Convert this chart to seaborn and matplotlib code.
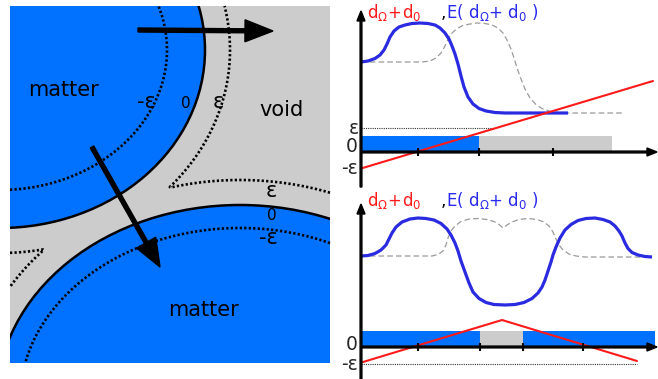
import numpy as np
import pandas as pd
import matplotlib
matplotlib.use("Agg")
import matplotlib.pyplot as plt
import seaborn as sns
from matplotlib.patches import Ellipse, Rectangle, FancyArrow

sns.set_style("white")
plt.rcParams['font.family'] = ['DejaVu Sans']
plt.rcParams['mathtext.fontset'] = 'dejavusans'
plt.rcParams['lines.dotted_pattern'] = [0.85, 0.85]

BLUE = "#0072ff"
GRAY = "#cccccc"
CURVE = "#2a2ae0"
RED = "#ff1a1a"

# ---------------- left panel (schematic, pixel units) ----------------
panel_box = (10, 6, 330, 363)              # x0, y0, x1, y1
upper_blob = (0, 50, 205, 178)            # centre x, centre y, semi-axis a, b
lower_blob = (240, 400, 243, 195)
eps_out = 25
eps_in = {"upper": 38, "lower": 23}
left_labels = [("matter", 64, 90, 15), ("void", 281, 110, 15),
               ("-ε", 146, 102, 15), ("0", 186, 103, 11), ("ε", 218, 102, 15),
               ("ε", 271, 191, 15), ("0", 272, 215, 11), ("-ε", 268, 238, 15),
               ("matter", 204, 310, 15)]
arrows = [(138, 30, 273, 31), (92, 147, 160, 267)]

# ---------------- right panels ----------------
top_blue_x = [361, 368, 375, 380, 384, 387, 390, 394, 399, 405, 412, 420, 428, 435, 440, 445, 449, 452,
              455, 458, 461, 464, 468, 473, 479, 486, 495, 505, 568]
top_blue_y = [62, 61, 58.5, 55, 50, 44, 37, 31, 27, 25, 23.5, 23, 23.5, 25, 28, 33, 39, 46,
              54, 64, 76, 87, 97, 104, 108.5, 111, 112.5, 113, 113]
top_gray_x = [361, 422, 430, 436, 441, 445, 448, 452, 457, 463, 470, 477, 485, 492, 498, 503, 507, 511,
              514, 517, 521, 525, 530, 536, 542, 549, 557, 565, 623]
top_gray_y = [62, 62, 61, 58, 53, 46, 39, 33, 28.5, 25.5, 24, 23, 23.5, 25, 28, 33, 40, 49,
              58, 68, 79, 89, 98, 104.5, 108.5, 111, 112.5, 113, 113]
top_red_x = [361, 653]
top_red_y = [168.5, 81]
top_bars = [(361, 479, BLUE), (479, 612, GRAY)]
top_ticks = [418, 479, 553]

bot_blue_x = [361, 368, 375, 381, 386, 389, 392, 396, 402, 410, 418, 426, 434, 441, 447, 451, 455, 458,
              461, 465, 469, 473, 479, 486, 494, 505, 515, 524, 532, 538, 542, 545, 548, 551, 553,
              556, 560, 565, 571, 578, 586, 595, 603, 610, 615, 619, 622, 625, 628, 632, 638, 645, 652]
bot_blue_y = [256, 255.5, 253.5, 250, 245, 239, 233, 227, 222, 219, 218, 218.5, 220, 223.5, 229, 235, 243, 251,
              261, 272, 283, 292, 298.5, 302.5, 304.5, 305, 304.5, 302.5, 298.5, 293, 287, 280, 271, 262, 255,
              247, 238, 230, 224.5, 220.5, 218.5, 218, 219.5, 222, 226, 231, 236, 243, 248.5, 252.5, 255, 256.5, 257]
bot_gray_x = [361, 432, 438, 443, 446, 448, 451, 455, 461, 469, 478, 487, 494, 499, 503, 507, 512, 519,
              528, 537, 544, 549, 553, 556, 559, 563, 569, 576, 585, 652]
bot_gray_y = [256, 256, 254.5, 251, 245, 238, 231, 226, 221.5, 219, 218.5, 219.5, 221.5, 224.5, 228, 225, 222, 219.5,
              218.5, 219.5, 222, 226, 232, 239, 245, 250, 254, 256, 257, 257]
bot_red_x = [363, 502, 637]
bot_red_y = [362, 320, 361]
bot_bars = [(361, 480, BLUE), (480, 523, GRAY), (523, 655, BLUE)]
bot_ticks = [418, 480, 523, 583]

fig = plt.figure(figsize=(6.58, 3.79), dpi=100)
ax = fig.add_axes([0, 0, 1, 1])

# ---- left panel ----
x0, y0, x1, y1 = panel_box
bg = Rectangle((x0, y0), x1 - x0, y1 - y0, facecolor=GRAY, edgecolor="none", zorder=0)
ax.add_patch(bg)
for cx, cy, a, b in (upper_blob, lower_blob):
    e = Ellipse((cx, cy), 2 * a, 2 * b, facecolor=BLUE, edgecolor="black", lw=1.8, zorder=1)
    ax.add_patch(e)
    e.set_clip_path(bg)

xs = np.arange(x0, x1 + 0.5, 1.0)
ys = np.arange(y0, y1 + 0.5, 1.0)
X, Y = np.meshgrid(xs, ys)


def signed_dist(cx, cy, a, b):
    t = np.linspace(0, 2 * np.pi, 1200)
    px = cx + a * np.cos(t)
    py = cy + b * np.sin(t)
    d = np.empty_like(X)
    for i in range(X.shape[0]):
        d[i] = np.sqrt((X[i][:, None] - px[None, :]) ** 2 + (Y[i][:, None] - py[None, :]) ** 2).min(axis=1)
    inside = ((X - cx) / a) ** 2 + ((Y - cy) / b) ** 2 < 1
    return np.where(inside, -d, d)


du = signed_dist(*upper_blob)
dl = signed_dist(*lower_blob)
dot_lw = 1.9
ax.contour(X, Y, np.minimum(du, dl), levels=[eps_out], colors="black", linewidths=dot_lw,
           linestyles="dotted", zorder=2)
ax.contour(X, Y, du, levels=[-eps_in["upper"]], colors="black", linewidths=dot_lw, linestyles="dotted", zorder=2)
ax.contour(X, Y, dl, levels=[-eps_in["lower"]], colors="black", linewidths=dot_lw, linestyles="dotted", zorder=2)

for s, tx, ty, fs in left_labels:
    ax.text(tx, ty, s, ha="center", va="center", fontsize=fs, color="black", zorder=5)

for ax0, ay0, ax1, ay1 in arrows:
    ax.add_patch(FancyArrow(ax0, ay0, ax1 - ax0, ay1 - ay0, width=4, head_width=22, head_length=28,
                            length_includes_head=True, color="black", zorder=4))

# ---- right panels ----
def panel(blue_x, blue_y, gray_x, gray_y, red_x, red_y, bars, ticks, yaxis, zero_y, bar_h, eps_y,
          eps_line, title_y, labels):
    for l, r, c in bars:
        ax.barh(zero_y - bar_h / 2, r - l, left=l, height=bar_h, color=c, zorder=1, linewidth=0)
    sns.lineplot(x=gray_x, y=gray_y, ax=ax, color="#9a9a9a", lw=0.9, linestyle=(0, (4.5, 2.5)),
                 sort=False, zorder=2)
    sns.lineplot(x=blue_x, y=blue_y, ax=ax, color=CURVE, lw=2.3, sort=False, zorder=3,
                 solid_capstyle="butt")
    sns.lineplot(x=red_x, y=red_y, ax=ax, color=RED, lw=1.5, sort=False, zorder=4)
    ax.plot([361, eps_line], [eps_y, eps_y], color="#333333", lw=0.8, linestyle=(0, (1, 1)), zorder=2)
    # axes arrows
    ytop, ybot = yaxis
    ax.add_patch(FancyArrow(361, ybot, 0, ytop - ybot, width=1.8, head_width=8, head_length=10,
                            length_includes_head=True, color="black", zorder=5))
    ax.add_patch(FancyArrow(361, zero_y, 657 - 361, 0, width=1.8, head_width=8, head_length=10,
                            length_includes_head=True, color="black", zorder=5))
    ax.vlines(ticks, zero_y - 4, zero_y + 4, color="black", lw=1.5, zorder=5)
    for s, lx, ly in labels:
        ax.text(lx, ly, s, ha="center", va="center", fontsize=13.5, zorder=5)
    ax.text(367, title_y, r"$\mathregular{d_\Omega\!+\!d_0}$", color=RED, fontsize=12,
            ha="left", va="baseline")
    ax.text(441, title_y, ",", color="black", fontsize=12, ha="left", va="baseline")
    ax.text(446, title_y, r"E( $\mathregular{d_\Omega}$+ $\mathregular{d_0}$ )", color="#2a2af0",
            fontsize=12, ha="left", va="baseline")


panel(top_blue_x, top_blue_y, top_gray_x, top_gray_y, top_red_x, top_red_y, top_bars, top_ticks,
      (11, 187), 152, 16, 128, 493, 18,
      [("ε", 354, 128), ("0", 352, 147), ("-ε", 350, 168)])
panel(bot_blue_x, bot_blue_y, bot_gray_x, bot_gray_y, bot_red_x, bot_red_y, bot_bars, bot_ticks,
      (204, 379), 347, 16, 364, 637, 206,
      [("0", 352, 345), ("-ε", 350, 364)])

ax.set_xlim(0, 658)
ax.set_ylim(379, 0)
ax.axis("off")
fig.savefig("out.png", dpi=100)
